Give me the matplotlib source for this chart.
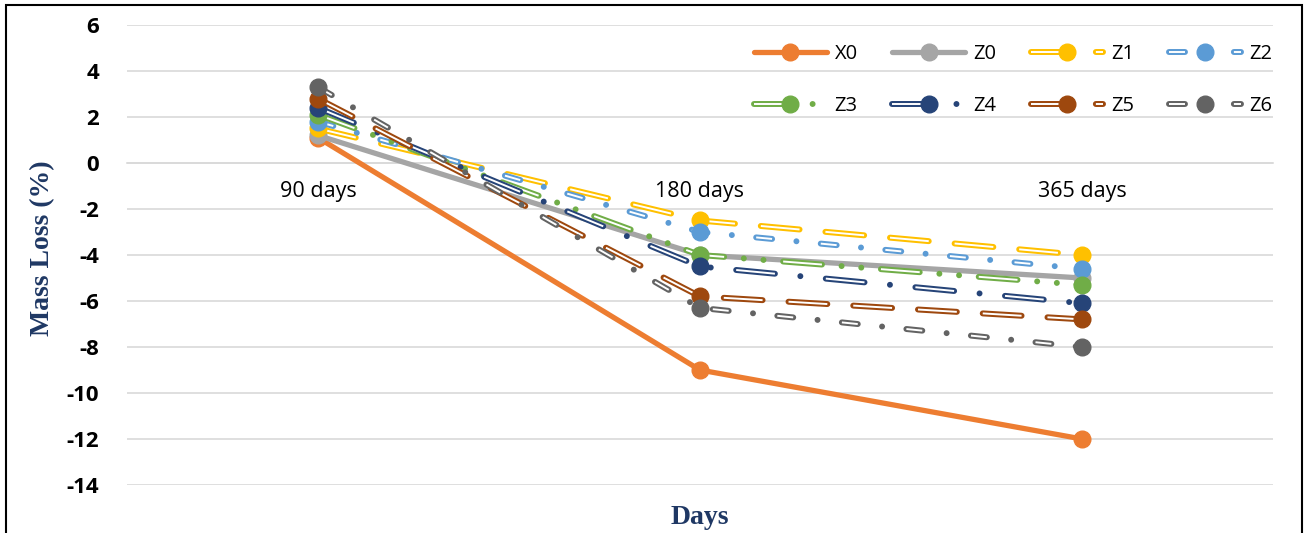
import matplotlib.pyplot as plt
from matplotlib.patches import Rectangle
from matplotlib.legend_handler import HandlerTuple

plt.rcParams['lines.scale_dashes'] = False
plt.rcParams['axes.unicode_minus'] = False

# data
days = ['90 days', '180 days', '365 days']
names = ['X0', 'Z0', 'Z1', 'Z2', 'Z3', 'Z4', 'Z5', 'Z6']
X0 = [1.1, -9.0, -12.0]
Z0 = [1.2, -4.0, -5.0]
Z1 = [1.5, -2.5, -4.0]
Z2 = [1.8, -3.0, -4.6]
Z3 = [2.1, -4.0, -5.3]
Z4 = [2.4, -4.5, -6.1]
Z5 = [2.8, -5.8, -6.8]
Z6 = [3.3, -6.3, -8.0]
series = [X0, Z0, Z1, Z2, Z3, Z4, Z5, Z6]

colors = ['#ED7D31', '#A5A5A5', '#FFC000', '#5B9BD5',
          '#70AD47', '#264478', '#9E480E', '#636363']

# dash patterns in points (None = solid). dots are tiny dashes with round caps
LD, D, dot = 28, 11.5, 0.01
patterns = {
    'Z1': [LD, 18.7],
    'Z2': [D, 17.6, dot, 17.6],
    'Z3': [LD, 14.2, dot, 14.2, dot, 14.2],
    'Z4': [LD, 18.4, dot, 18.4],
    'Z5': [LD, 18.7],
    'Z6': [D, 17.6, dot, 17.6],
}

def inner_pattern(p):
    # same positions but only the long dashes (the white core of the hollow line)
    return [p[0], sum(p[1:])]

fig = plt.figure(figsize=(13.06, 5.33), dpi=100)
ax = fig.add_axes([0.0972, 0.0901, 0.8775, 0.863])

x = list(range(len(days)))
handles = []
for i, (name, y, c) in enumerate(zip(names, series, colors)):
    z = 3 + i
    if name in patterns:
        p = patterns[name]
        outer, = ax.plot(x, y, color=c, lw=4.3, dashes=p,
                         dash_capstyle='round', zorder=z)
        inner, = ax.plot(x, y, color='white', lw=1.4, dashes=inner_pattern(p),
                         dash_capstyle='butt', zorder=z)
        mk, = ax.plot(x, y, ls='none', marker='o', ms=12, color=c, zorder=z)
        handles.append((outer, inner, mk))
    else:
        ln, = ax.plot(x, y, color=c, lw=3.8, solid_capstyle='round',
                      marker='o', ms=12, zorder=z)
        handles.append(ln)

ax.set_xlim(-0.5, 2.5)
ax.set_ylim(-14, 6)
ax.set_yticks(range(-14, 7, 2))
ax.yaxis.grid(True, color='#D9D9D9', lw=1.2)
ax.set_axisbelow(True)

for s in ['top', 'right', 'left']:
    ax.spines[s].set_visible(False)
ax.spines['bottom'].set_position(('data', 0))
ax.spines['bottom'].set_color('#D9D9D9')
ax.spines['bottom'].set_linewidth(1.2)

ax.set_xticks(x)
ax.set_xticklabels(days, fontsize=15.5, family='Open Sans')
ax.tick_params(axis='x', length=0, pad=13)
ax.tick_params(axis='y', length=0, pad=20)
ax.set_yticklabels([str(v) for v in range(-14, 7, 2)], fontsize=16,
                   fontweight='bold', family='Open Sans')

fig.text(0.033, 0.535, 'Mass Loss (%)', rotation=90, ha='center', va='center',
         fontsize=20, fontweight='bold', family='Liberation Serif', color='#1F3864')
fig.text(0.536, 0.029, 'Days', ha='center', va='center',
         fontsize=20, fontweight='bold', family='Liberation Serif', color='#1F3864')

# matplotlib fills legend columns first, so interleave to get row order
order = [0, 4, 1, 5, 2, 6, 3, 7]
leg = fig.legend([handles[k] for k in order], [names[k] for k in order],
                 loc='upper right', bbox_to_anchor=(0.982, 0.937),
                 ncol=4, frameon=False, handlelength=3.6,
                 handletextpad=0.4, columnspacing=1.72, labelspacing=1.6,
                 borderpad=0, numpoints=1,
                 handler_map={tuple: HandlerTuple(ndivide=1)},
                 prop={'family': 'Open Sans', 'size': 14.5})

# outer border of the chart
fig.patches.append(Rectangle((6 / 1306, -0.05), 1296 / 1306, 1.05 - 5 / 533,
                             transform=fig.transFigure, fill=False,
                             edgecolor='black', lw=1.5))

fig.savefig('out.png', dpi=100)
